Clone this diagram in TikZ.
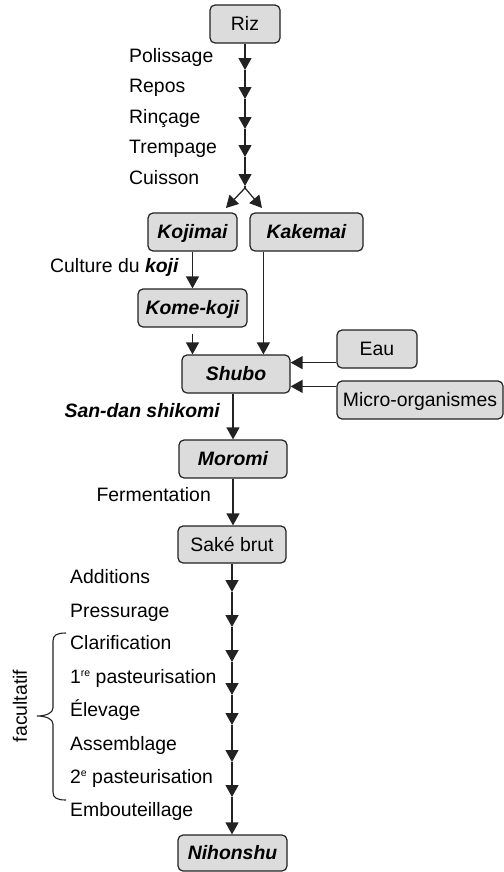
\documentclass[tikz,border=0pt]{standalone}
\usepackage{fontspec}
\setmainfont{Liberation Sans}
\usetikzlibrary{arrows.meta}
\definecolor{boxfill}{HTML}{DCDCDC}
\definecolor{linec}{HTML}{222222}
\newcommand\bis{\bfseries\itshape}
\newcommand\supsc[1]{\raisebox{6.5bp}{\fontsize{10.5bp}{11bp}\selectfont #1}}
\tikzset{
  box/.style={draw=linec, fill=boxfill, rounded corners=5bp, line width=1.2bp,
    minimum height=38bp, inner sep=0pt, text height=13.9bp, text depth=0bp, text=black},
  arr/.style={draw=linec, line width=1.25bp, -{Triangle[length=12bp,width=13bp]}},
  lab/.style={anchor=base west, inner sep=0pt, text=black},
  labr/.style={anchor=base east, inner sep=0pt, text=black},
  brc/.style={draw=linec, line width=1.1bp},
}
\begin{document}
\begin{tikzpicture}[x=1bp, y=-1bp, font=\fontsize{19.4bp}{23bp}\selectfont]
\useasboundingbox (0,0) rectangle (504,872);
% boxes
\node[box, minimum width=70bp] (riz) at (245,24) {Riz};
\node[box, minimum width=89bp] (koj) at (192.5,232) {\bis Kojimai};
\node[box, minimum width=113bp] (kak) at (306.5,232) {\bis Kakemai};
\node[box, minimum width=109bp] (kome) at (192.5,308) {\bis Kome-koji};
\node[box, minimum width=108bp] (shubo) at (236,374) {\bis Shubo};
\node[box, minimum width=80bp] (eau) at (377,349) {Eau};
\node[box, minimum width=166bp] (micro) at (420,400) {Micro-organismes};
\node[box, minimum width=108bp] (moromi) at (233,459) {\bis Moromi};
\node[box, minimum width=108bp, minimum height=37bp] (sake) at (232,544.5) {Saké brut};
\node[box, minimum width=109bp, minimum height=36bp] (nihon) at (232.5,853) {\bis Nihonshu};
% top chain
\coordinate (t1) at (245,70);
\coordinate (t2) at (245,99);
\coordinate (t3) at (245,129);
\coordinate (t4) at (245,157);
\coordinate (t5) at (245,186);
\coordinate (sp) at (245,188);
\coordinate (sl) at (226,208);
\coordinate (sr) at (262,208);
\draw[arr] (riz.south) -- (t1);
\draw[arr] (t1) -- (t2);
\draw[arr] (t2) -- (t3);
\draw[arr] (t3) -- (t4);
\draw[arr] (t4) -- (t5);
\draw[draw=linec, line width=1.25bp] (t5) -- (sp);
\draw[arr] (sp) -- (sl);
\draw[arr] (sp) -- (sr);
\node[lab] (l1) at (129,62) {Polissage};
\node[lab] (l2) at (129,92) {Repos};
\node[lab] (l3) at (129,123) {Rinçage};
\node[lab] (l4) at (129,153) {Trempage};
\node[lab] (l5) at (129,184) {Cuisson};
% middle
\draw[arr] (koj.south) -- (kome.north);
\node[lab] (lk) at (50,272) {Culture du {\bis koji}};
\coordinate (kbot) at ([yshift=-6bp]kome.south);
\draw[arr] (kbot) -- (kbot |- shubo.north);
\coordinate (kakx) at ([xshift=14bp]kak.south west);
\draw[arr] (kakx) -- (kakx |- shubo.north);
\coordinate (eauy) at ([yshift=6bp]eau.south west);
\draw[arr] (eauy) -- (eauy -| shubo.east);
\coordinate (microy) at ([yshift=-6bp]micro.north west);
\draw[arr] (microy) -- (microy -| shubo.east);
\draw[arr] (shubo.south -| moromi.north) -- (moromi.north);
\node[labr] (lsd) at (220,417) {\bis San-dan shikomi};
\draw[arr] (moromi.south) -- (moromi.south |- sake.north);
\node[labr] (lf) at (211,501) {Fermentation};
% bottom chain
\coordinate (b1) at (232,592);
\coordinate (b2) at (232,627);
\coordinate (b3) at (232,662);
\coordinate (b4) at (232,695);
\coordinate (b5) at (232,725);
\coordinate (b6) at (232,762);
\coordinate (b7) at (232,797);
\draw[arr] (sake.south -| b1) -- (b1);
\draw[arr] (b1) -- (b2);
\draw[arr] (b2) -- (b3);
\draw[arr] (b3) -- (b4);
\draw[arr] (b4) -- (b5);
\draw[arr] (b5) -- (b6);
\draw[arr] (b6) -- (b7);
\draw[arr] (b7) -- (b7 |- nihon.north);
\node[lab] (m1) at (70,583) {Additions};
\node[lab] (m2) at (70,617) {Pressurage};
\node[lab] (m3) at (70,649) {Clarification};
\node[lab] (m4) at (70,683) {1\supsc{re} pasteurisation};
\node[lab] (m5) at (70,716) {Élevage};
\node[lab] (m6) at (70,750) {Assemblage};
\node[lab] (m7) at (70,783) {2\supsc{e} pasteurisation};
\node[lab] (m8) at (70,816) {Embouteillage};
% brace
\draw[brc] (66,633) .. controls (57,633) and (53,635) .. (53,641) -- (53,708)
  .. controls (53,713) and (46,716) .. (37,716)
  .. controls (46,716) and (53,719) .. (53,724) -- (53,792)
  .. controls (53,798) and (57,800) .. (66,800);
\node[rotate=90, inner sep=0pt, text=black] (fac) at (20,706) {facultatif};
\end{tikzpicture}
\end{document}
